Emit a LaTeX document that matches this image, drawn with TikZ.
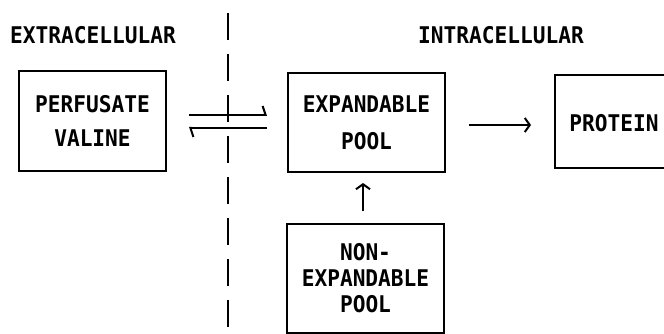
\documentclass[tikz,border=0pt]{standalone}
\usepackage{fontspec}
\setmonofont[FakeStretch=0.92]{DejaVu Sans Mono}
\usetikzlibrary{arrows.meta}
\begin{document}
\begin{tikzpicture}[x=1pt,y=-1pt,
  lbl/.style={font=\ttfamily\bfseries\fontsize{23}{25}\selectfont, inner sep=0pt},
  pbox/.style={draw, line width=2pt, inner sep=0pt, align=center, font=\ttfamily\bfseries\fontsize{23}{#1}\selectfont},
  pbox/.default=34,
  conn/.style={line width=2pt},
  harp/.style={conn, -{Straight Barb[left, length=3pt, width=18pt, line width=2pt]}},
  arr/.style={conn, -{Straight Barb[length=5pt, width=14pt, line width=2pt]}},
  sep/.style={line width=2pt, dash pattern=on 27pt off 14pt}
]
\useasboundingbox (0,0) rectangle (664,334);
\fill[white] (0,0) rectangle (664,334);

\node[lbl] (ext) at (93,35) {EXTRACELLULAR};
\node[lbl] (int) at (501,35) {INTRACELLULAR};

\coordinate (septop) at (228,13);
\coordinate (sepbot) at (228,336);
\draw[sep] (septop) -- (sepbot);

\node[pbox=34, minimum width=147pt, minimum height=100pt] (pv) at (92.5,121) {PERFUSATE\\VALINE};
\node[pbox=37, minimum width=157pt, minimum height=99pt] (exp) at (366.5,122.5) {EXPANDABLE\\POOL};
\node[pbox=26, minimum width=157pt, minimum height=109pt] (non) at (365.5,278.5) {NON-\\EXPANDABLE\\POOL};
\node[draw, line width=2pt, minimum width=117pt, minimum height=93pt, inner sep=0pt] (prot) at (613.5,121.5) {};
\node[lbl] (protl) at (614,123) {PROTEIN};

\draw[harp, shorten <=22pt, shorten >=20pt] ([yshift=6pt]pv.east) -- ([yshift=6pt]pv.east -| exp.west);
\draw[harp, shorten <=20pt, shorten >=22pt] ([yshift=-7pt]pv.east -| exp.west) -- ([yshift=-7pt]pv.east);
\draw[arr, shorten <=23pt, shorten >=23pt] ([yshift=-2.5pt]exp.east) -- ([yshift=-2.5pt]exp.east -| prot.west);
\draw[arr, shorten <=12pt, shorten >=10pt] (non.north -| 363,0) -- (exp.south -| 363,0);
\end{tikzpicture}
\end{document}
